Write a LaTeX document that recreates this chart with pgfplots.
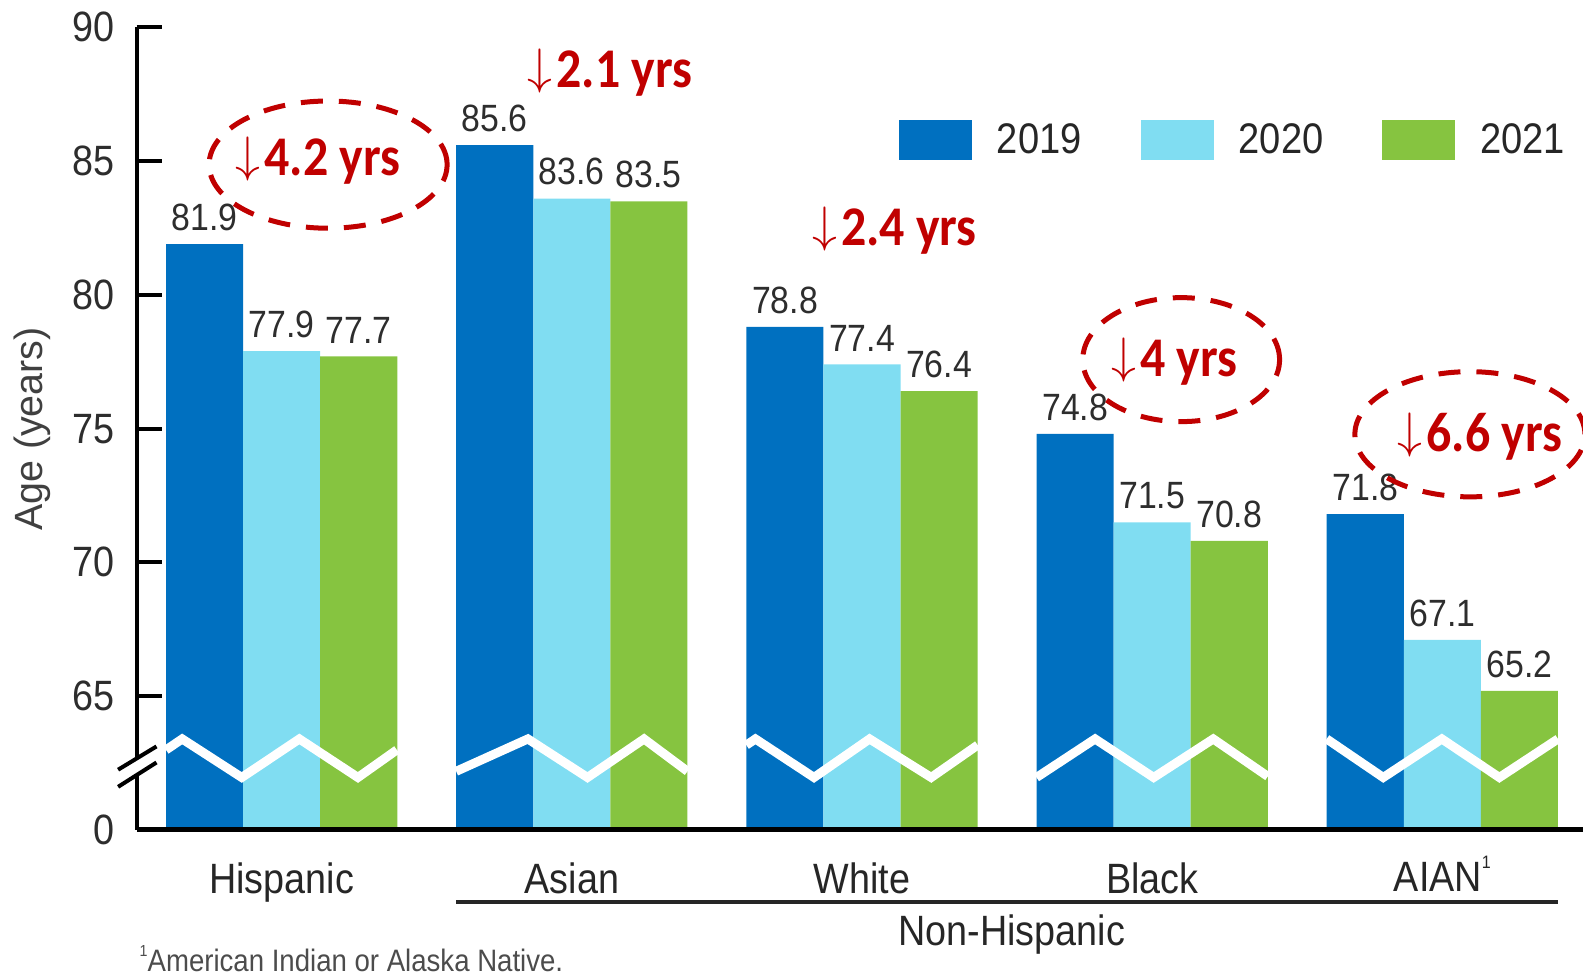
\documentclass[border=0pt]{standalone}
\usepackage{fontspec}
\setmainfont{Liberation Sans}[FakeStretch=0.89]
\newfontfamily\annfont{Carlito}[FakeStretch=0.89]
\newfontfamily\ylabfont{Liberation Sans}
\usepackage{pgfplots}
\pgfplotsset{compat=1.18}
\definecolor{cA}{RGB}{0,112,192}
\definecolor{cB}{RGB}{128,221,242}
\definecolor{cC}{RGB}{134,196,64}
\definecolor{ann}{RGB}{192,0,0}
\definecolor{txt}{RGB}{45,45,45}
\pgfplotsset{
  mybar/.style={ybar, bar width=0.2656, draw=none,
    nodes near coords,
    nodes near coords style={font=\fontsize{19}{21}\selectfont, text=txt, inner sep=0pt, anchor=south, yshift=6.5pt,
      /pgf/number format/fixed, /pgf/number format/fixed zerofill, /pgf/number format/precision=1, /pgf/number format/assume math mode=true},
    legend image code/.code={\fill[##1] (0pt,-10pt) rectangle (36.5pt,10pt);}},
}
\newcommand{\dn}{{\fontsize{24}{26}\selectfont\raisebox{2pt}{$\downarrow$}}\kern2pt}
\newcommand{\supone}{\smash{\raisebox{0.55em}{\fontsize{9}{10}\selectfont 1}}}
\begin{document}
\begin{tikzpicture}
\begin{axis}[
  at={(0,0)}, anchor=south west,
  scale only axis, width=725.4pt, height=401.25pt,
  xmin=-0.5, xmax=4.5, ymin=60, ymax=90,
  axis lines=left, axis line style={-},
  x axis line style={line width=2.5pt},
  y axis line style={line width=2pt},
  ytick={60,65,70,75,80,85,90},
  yticklabels={0,65,70,75,80,85,90},
  xtick={0,1,2,3,4},
  xticklabels={Hispanic,Asian,White,Black,AIAN\supone},
  tick align=inside, major tick length=12.7pt,
  ytick style={line width=2pt, black},
  xtick style={draw=none},
  yticklabel style={font=\fontsize{21.2}{24}\selectfont, text=txt, inner sep=0pt, xshift=-11pt},
  xticklabel style={font=\fontsize{21.2}{24}\selectfont, text=black!85, inner sep=0pt, yshift=-16pt},
  /pgf/number format/assume math mode=true,
  clip mode=individual,
  legend columns=3,
  legend style={at={(0.5252,0.860)}, anchor=west, draw=none, fill=none, inner sep=0pt,
    font=\fontsize{21.4}{24}\selectfont, text=black!85,
    /tikz/every odd column/.append style={column sep=10.5pt},
    /tikz/every even column/.append style={column sep=27.5pt}},
]
\addplot[mybar, bar shift=-0.2656, fill=cA, nodes near coords style={/tikz/xshift=-38.5pt}] coordinates {(0,81.9) (1,85.6) (2,78.8) (3,74.8) (4,71.8)};
\addlegendentry{2019}
\addplot[mybar, bar shift=0, fill=cB] coordinates {(0,77.9) (1,83.6) (2,77.4) (3,71.5) (4,67.1)};
\addlegendentry{2020}
\addplot[mybar, bar shift=0.2656, fill=cC, nodes near coords style={/tikz/xshift=38.5pt}] coordinates {(0,77.7) (1,83.5) (2,76.4) (3,70.8) (4,65.2)};
\addlegendentry{2021}
% white break zigzags
\addplot[white, line width=4.5pt, forget plot] coordinates {(-0.3986,62.99) (-0.3429,63.40) (-0.1375,61.96) (0.0609,63.40) (0.2628,61.96) (0.3969,62.99)};
\addplot[white, line width=4.5pt, forget plot] coordinates {(0.6014,62.19) (0.8486,63.40) (1.0540,61.96) (1.2489,63.40) (1.3986,62.19)};
\addplot[white, line width=4.5pt, forget plot] coordinates {(1.6014,63.17) (1.6327,63.40) (1.8346,61.96) (2.0261,63.40) (2.2385,61.96) (2.3986,63.17)};
\addplot[white, line width=4.5pt, forget plot] coordinates {(2.6014,61.96) (2.8033,63.40) (3.0052,61.96) (3.2106,63.40) (3.3986,62.00)};
\addplot[white, line width=4.5pt, forget plot] coordinates {(3.6014,63.40) (3.7964,61.96) (3.9983,63.40) (4.1967,61.96) (4.3986,63.40)};
% x axis line on top of bars
\draw[line width=2.5pt] (axis cs:-0.5,60) -- (axis cs:4.5,60);
% axis break
\fill[white] (axis cs:-0.5637,62.25) -- (axis cs:-0.4315,63.12) -- (axis cs:-0.4315,62.52) -- (axis cs:-0.5637,61.61) -- cycle;
\draw[line width=2pt] (axis cs:-0.5637,62.25) -- (axis cs:-0.4315,63.12);
\draw[line width=2pt] (axis cs:-0.5637,61.61) -- (axis cs:-0.4315,62.52);
% group line and labels
\draw[line width=2pt, black!85] (axis cs:0.602,57.32) -- (axis cs:4.398,57.32);
\node[font=\fontsize{21.2}{24}\selectfont, text=black!85, inner sep=0pt] at (axis cs:2.516,56.08) {Non-Hispanic};
\node[anchor=west, font=\fontsize{15.5}{18}\selectfont, text=black!70, inner sep=0pt] at (axis cs:-0.4906,55.12) {\smash{\raisebox{0.5em}{\fontsize{8}{9}\selectfont 1}}American Indian or Alaska Native.};
\node[rotate=90, font=\ylabfont\fontsize{19.7}{22}\selectfont, text=black!75, inner sep=0pt] at (axis cs:-0.859,74.98) {Age (years)};
% annotations
\begin{scope}[every node/.style={text=ann, font=\annfont\bfseries\fontsize{28}{30}\selectfont, inner sep=0pt}]
\node at (axis cs:0.125,85.02) {\dn4.2 yrs};
\node at (axis cs:1.131,88.30) {\dn2.1 yrs};
\node at (axis cs:2.112,82.42) {\dn2.4 yrs};
\node at (axis cs:3.076,77.51) {\dn4 yrs};
\node at (axis cs:4.130,74.72) {\dn6.6 yrs};
\end{scope}
\begin{scope}[ann, line width=2.5pt, dash pattern=on 11pt off 8pt]
\draw (axis cs:0.160,84.87) ellipse [x radius=59.5pt, y radius=31.8pt];
\draw (axis cs:3.100,77.58) ellipse [x radius=49.2pt, y radius=31pt];
\draw (axis cs:4.095,74.79) ellipse [x radius=57.5pt, y radius=31.3pt];
\end{scope}
\end{axis}
\pgfresetboundingbox
\useasboundingbox (-68.3pt,-74.05pt) rectangle (723.2pt,414.95pt);
\end{tikzpicture}
\end{document}
